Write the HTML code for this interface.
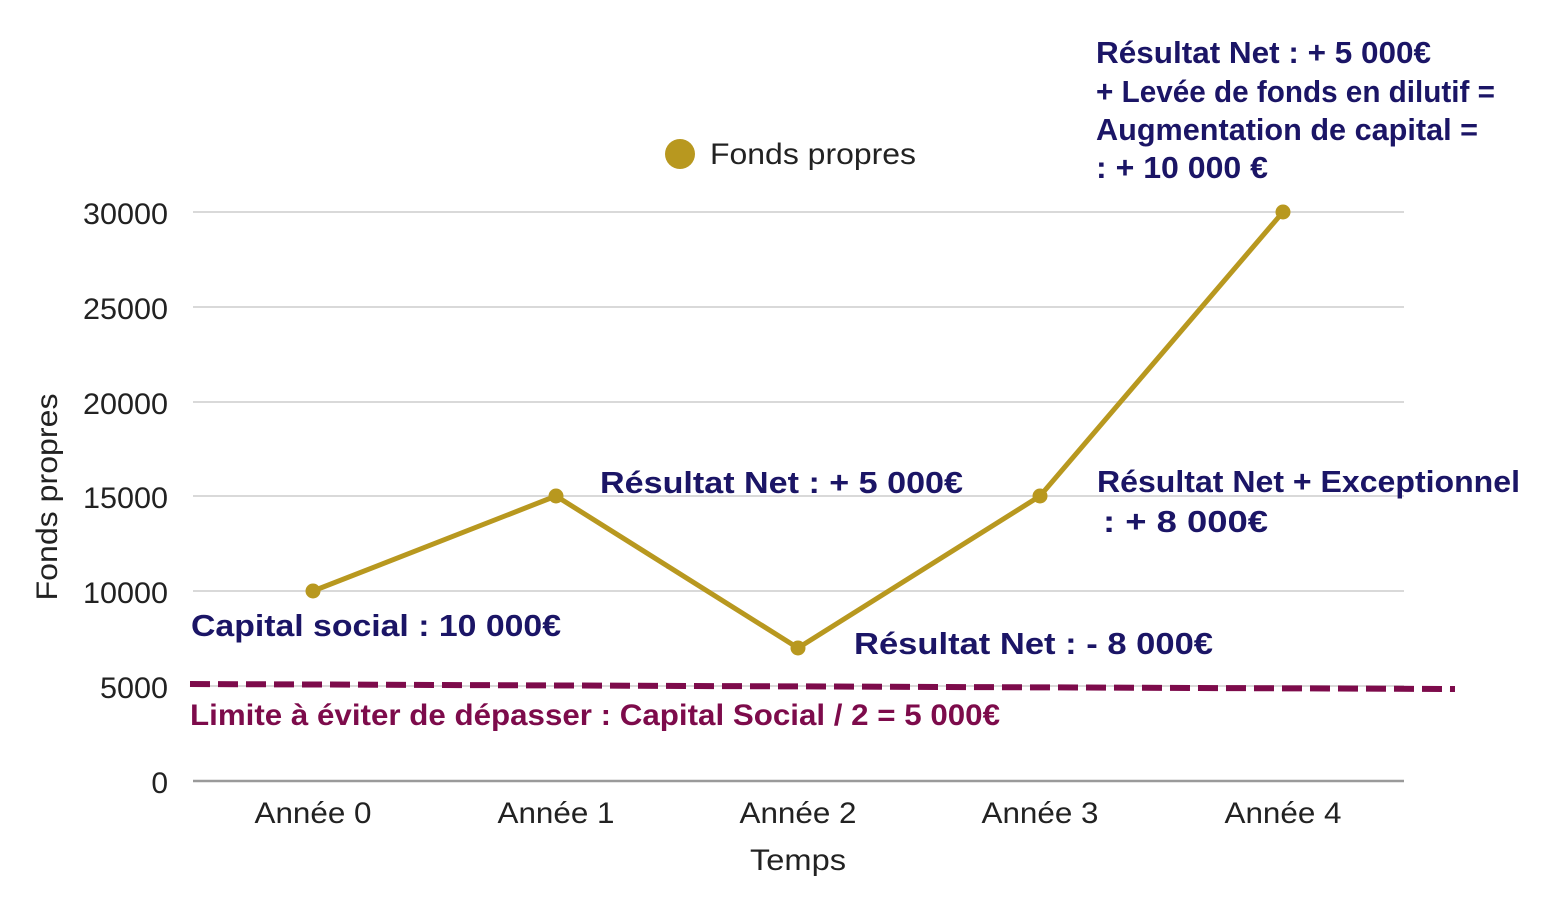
<!DOCTYPE html>
<html>
<head>
<meta charset="utf-8">
<style>
  html,body{margin:0;padding:0;background:#fff;}
  svg{display:block;}
  .tick{font-family:"Liberation Sans",sans-serif;font-size:30px;fill:#222;}
  .ann{font-family:"Liberation Sans",sans-serif;font-weight:bold;font-size:31px;fill:#1b1566;}
  .lim{font-family:"Liberation Sans",sans-serif;font-weight:bold;font-size:30px;fill:#7d0b4b;}
</style>
</head>
<body>
<svg width="1554" height="910" viewBox="0 0 1554 910" xmlns="http://www.w3.org/2000/svg">
  <rect width="1554" height="910" fill="#fff"/>
  <!-- gridlines -->
  <g stroke="#d9d9d9" stroke-width="2">
    <line x1="193" y1="212" x2="1404" y2="212"/>
    <line x1="193" y1="307" x2="1404" y2="307"/>
    <line x1="193" y1="402" x2="1404" y2="402"/>
    <line x1="193" y1="496" x2="1404" y2="496"/>
    <line x1="193" y1="591" x2="1404" y2="591"/>
    <line x1="193" y1="686" x2="1404" y2="686"/>
  </g>
  <line x1="193" y1="781" x2="1404" y2="781" stroke="#9a9a9a" stroke-width="2.5"/>

  <!-- y tick labels -->
  <g class="tick" text-anchor="end">
    <text x="168" y="224" textLength="85" lengthAdjust="spacingAndGlyphs">30000</text>
    <text x="168" y="319" textLength="85" lengthAdjust="spacingAndGlyphs">25000</text>
    <text x="168" y="414" textLength="85" lengthAdjust="spacingAndGlyphs">20000</text>
    <text x="168" y="508" textLength="85" lengthAdjust="spacingAndGlyphs">15000</text>
    <text x="168" y="603" textLength="85" lengthAdjust="spacingAndGlyphs">10000</text>
    <text x="168" y="698" textLength="68" lengthAdjust="spacingAndGlyphs">5000</text>
    <text x="168" y="793">0</text>
  </g>
  <text class="tick" transform="translate(57,497) rotate(-90)" text-anchor="middle" font-size="29" textLength="207" lengthAdjust="spacingAndGlyphs">Fonds propres</text>

  <!-- x tick labels -->
  <g class="tick" text-anchor="middle">
    <text x="313" y="823" textLength="117" lengthAdjust="spacingAndGlyphs">Année 0</text>
    <text x="556" y="823" textLength="117" lengthAdjust="spacingAndGlyphs">Année 1</text>
    <text x="798" y="823" textLength="117" lengthAdjust="spacingAndGlyphs">Année 2</text>
    <text x="1040" y="823" textLength="117" lengthAdjust="spacingAndGlyphs">Année 3</text>
    <text x="1283" y="823" textLength="117" lengthAdjust="spacingAndGlyphs">Année 4</text>
    <text x="798" y="870" textLength="96" lengthAdjust="spacingAndGlyphs">Temps</text>
  </g>

  <!-- legend -->
  <circle cx="680" cy="154" r="15" fill="#b8981f"/>
  <text class="tick" x="710" y="164" font-size="31" textLength="206" lengthAdjust="spacingAndGlyphs">Fonds propres</text>

  <!-- dashed limit line -->
  <line x1="190" y1="684" x2="1455" y2="689" stroke="#7d0b4b" stroke-width="6" stroke-dasharray="20 8"/>

  <!-- series -->
  <polyline points="313,591 556,496 798,648 1040,496 1283,212" fill="none" stroke="#b8981f" stroke-width="5" stroke-linejoin="round"/>
  <g fill="#b8981f">
    <circle cx="313" cy="591" r="7.5"/>
    <circle cx="556" cy="496" r="7.5"/>
    <circle cx="798" cy="648" r="7.5"/>
    <circle cx="1040" cy="496" r="7.5"/>
    <circle cx="1283" cy="212" r="7.5"/>
  </g>

  <!-- annotations -->
  <g class="ann">
    <text x="1096" y="63" textLength="335" lengthAdjust="spacingAndGlyphs">Résultat Net : + 5 000€</text>
    <text x="1096" y="102" textLength="399" lengthAdjust="spacingAndGlyphs">+ Levée de fonds en dilutif =</text>
    <text x="1096" y="140" textLength="382" lengthAdjust="spacingAndGlyphs">Augmentation de capital =</text>
    <text x="1096" y="178" textLength="172" lengthAdjust="spacingAndGlyphs">: + 10 000 €</text>

    <text x="600" y="493" textLength="363" lengthAdjust="spacingAndGlyphs">Résultat Net : + 5 000€</text>
    <text x="1097" y="492" textLength="423" lengthAdjust="spacingAndGlyphs">Résultat Net + Exceptionnel</text>
    <text x="1103" y="532" textLength="165" lengthAdjust="spacingAndGlyphs">: + 8 000€</text>

    <text x="191" y="636" textLength="370" lengthAdjust="spacingAndGlyphs">Capital social : 10 000€</text>
    <text x="854" y="654" textLength="359" lengthAdjust="spacingAndGlyphs">Résultat Net : - 8 000€</text>
  </g>
  <text class="lim" x="190" y="725" textLength="810" lengthAdjust="spacingAndGlyphs">Limite à éviter de dépasser : Capital Social / 2 = 5 000€</text>
</svg>
</body>
</html>
